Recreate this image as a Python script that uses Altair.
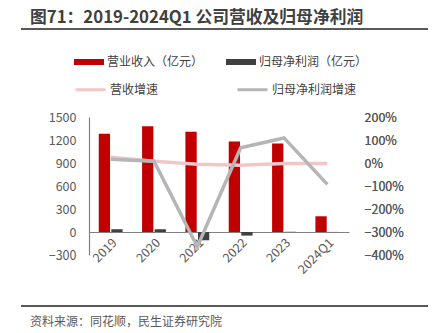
import altair as alt
import pandas as pd

years = ["2019", "2020", "2021", "2022", "2023", "2024Q1"]
revenue = [1283, 1378, 1309, 1179, 1153, 205]
net_profit = [35, 36, -108, -47, 3, 1]
rev_growth = [0.25, 0.08, -0.05, -0.10, -0.02, -0.02]
np_growth = [0.16, 0.08, -3.64, 0.66, 1.09, -0.93]

bar_names = ["营业收入（亿元）", "归母净利润（亿元）"]
line_names = ["营收增速", "归母净利润增速"]
title_text = "图71：2019-2024Q1 公司营收及归母净利润"
source_text = "资料来源：同花顺，民生证券研究院"
left_ticks = [-300, 0, 300, 600, 900, 1200, 1500]
right_ticks = [-4, -3, -2, -1, 0, 1, 2]

FONT = "Noto Sans CJK SC"
GREY = "#595959"

bars_df = pd.DataFrame({
    "year": years * 2,
    "series": [bar_names[0]] * len(years) + [bar_names[1]] * len(years),
    "value": revenue + net_profit,
})
lines_df = pd.DataFrame({
    "year": years * 2,
    "series": [line_names[0]] * len(years) + [line_names[1]] * len(years),
    "growth": rev_growth + np_growth,
})

x_enc = alt.X(
    "year:N", sort=years,
    scale=alt.Scale(paddingInner=0.45, paddingOuter=0.225),
    axis=alt.Axis(title=None, labelAngle=-45, offset=-23, domainColor="#808080",
                  domainWidth=1.2, ticks=False, labelColor=GREY, labelFontSize=12.5,
                  labelPadding=4, labelFont=FONT),
)

bars = alt.Chart(bars_df).mark_bar().encode(
    x=x_enc,
    xOffset=alt.XOffset("series:N", sort=bar_names,
                        scale=alt.Scale(domain=bar_names, paddingInner=0.1)),
    y=alt.Y("value:Q",
            scale=alt.Scale(domain=[-300, 1500], nice=False, zero=False),
            axis=alt.Axis(values=left_ticks, format="d", title=None, grid=False, ticks=False,
                          domainColor="#808080", domainWidth=1.2, labelPadding=13,
                          labelColor=GREY, labelFontSize=12.5, labelFont=FONT)),
    fill=alt.Fill("series:N",
                  scale=alt.Scale(domain=bar_names, range=["#C00000", "#404040"]),
                  legend=alt.Legend(orient="none", legendX=-15, legendY=-70,
                                    direction="horizontal", columns=2, title=None,
                                    symbolType="M-1,-0.2H1V0.2H-1Z", symbolSize=900,
                                    symbolStrokeWidth=0, columnPadding=22,
                                    labelOffset=3, labelFontSize=12, labelColor="#404040",
                                    labelFont=FONT, padding=0, labelLimit=200)),
)

y_right = alt.Y("growth:Q",
                scale=alt.Scale(domain=[-4, 2], nice=False, zero=False),
                axis=alt.Axis(orient="right", values=right_ticks, format=".0%", title=None,
                              domain=False, ticks=False, grid=False, labelPadding=15,
                              labelColor=GREY, labelFontSize=12.5, labelFont=FONT))
stroke_enc = alt.Stroke("series:N",
                        scale=alt.Scale(domain=line_names, range=["#F2C6C9", "#B5B5B5"]),
                        legend=alt.Legend(orient="none", legendX=-15, legendY=-44,
                                          direction="horizontal", columns=2, title=None,
                                          symbolType="stroke", symbolSize=900,
                                          symbolStrokeWidth=3, columnPadding=72,
                                          labelOffset=3, labelFontSize=12,
                                          labelColor="#404040", labelFont=FONT, padding=0,
                                          labelLimit=200))

line_rev = alt.Chart(lines_df).transform_filter(
    alt.datum.series == line_names[0]
).mark_line(strokeWidth=3.5).encode(x=x_enc, y=y_right, stroke=stroke_enc)
line_np = alt.Chart(lines_df).transform_filter(
    alt.datum.series == line_names[1]
).mark_line(strokeWidth=3.5).encode(x=x_enc, y=y_right, stroke=stroke_enc)

deco_df = pd.DataFrame({"source": [source_text]})
top_rule = alt.Chart(deco_df).mark_rule(color=GREY, strokeWidth=2).encode(
    x=alt.value(-68), x2=alt.value(339), y=alt.value(-88))
bottom_rule = alt.Chart(deco_df).mark_rule(color=GREY, strokeWidth=2).encode(
    x=alt.value(-68), x2=alt.value(339), y=alt.value(189))
source = alt.Chart(deco_df).mark_text(
    align="left", baseline="middle", fontSize=12, color=GREY, font=FONT
).encode(x=alt.value(-59), y=alt.value(204.5), text="source:N")

chart = alt.layer(
    bars, line_rev, line_np, top_rule, bottom_rule, source
).resolve_scale(y="independent").properties(
    width=260, height=138,
    title=alt.TitleParams(title_text, anchor="start", dx=10, dy=3, fontSize=16.8,
                          fontWeight="bold", color="#404040", font=FONT),
    autosize=alt.AutoSizeParams(type="none"),
    padding={"left": 89, "top": 117, "right": 88, "bottom": 78},
).configure_view(stroke=None)

chart.save("out.html", embed_options={"renderer": "svg", "actions": False})
